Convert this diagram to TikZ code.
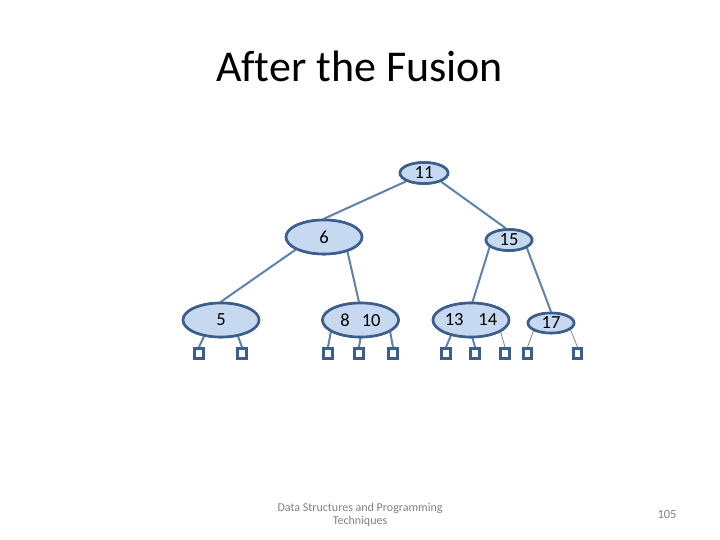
\documentclass[tikz,border=0pt]{standalone}
\usepackage{fontspec}
\setmainfont{Carlito}[Ligatures=NoCommon]
\usetikzlibrary{shapes.geometric}
\definecolor{nodefill}{HTML}{C6D9F1}
\definecolor{nodeline}{HTML}{3B5E8C}
\definecolor{edgeline}{HTML}{5C82AD}
\definecolor{thinedge}{HTML}{7A8A9A}
\definecolor{footgray}{HTML}{808080}
\tikzset{
  keynode/.style={ellipse, draw=nodeline, fill=nodefill, line width=2.6pt, inner sep=0pt, font=\fontsize{18.5}{18.5}\selectfont},
  bignode/.style={keynode, minimum width=76pt, minimum height=34pt},
  smallnode/.style={keynode, minimum width=46pt, minimum height=21pt},
  leafbox/.style={rectangle, draw=nodeline, fill=white, line width=2.8pt, inner sep=0pt, minimum width=8.5pt, minimum height=10pt},
  edge/.style={draw=edgeline, line width=2pt},
  thinedgestyle/.style={draw=thinedge, line width=0.8pt}
}
\begin{document}
\begin{tikzpicture}[x=1pt,y=-1pt]
\useasboundingbox (0,0) rectangle (720,540);
\node[font=\fontsize{44}{44}\selectfont, anchor=base] (title) at (359.5,82) {After the Fusion};

% leaves
\node[leafbox] (l1) at (199,353.5) {};
\node[leafbox] (l2) at (242,353.5) {};
\node[leafbox] (l3) at (328,353.5) {};
\node[leafbox] (l4) at (359,353.5) {};
\node[leafbox] (l5) at (393,353.5) {};
\node[leafbox] (l6) at (446,353.5) {};
\node[leafbox] (l7) at (475,353.5) {};
\node[leafbox] (l8) at (505,353.5) {};
\node[leafbox] (l9) at (527.5,353.5) {};
\node[leafbox] (l10) at (577.5,353.5) {};

% internal nodes (positions)
\node[smallnode, minimum width=48pt] (n11) at (424,173) {11};
\node[bignode] (n6) at (324,237) {6};
\node[smallnode] (n15) at (509,240) {15};
\node[bignode] (n5) at (221,320) {5};
\node[bignode] (n810) at (360.5,320) {8\hspace{12pt}10};
\node[bignode] (n1314) at (471,320) {13\hspace{15pt}14};
\node[smallnode, minimum height=20pt] (n17) at (551,323) {17};

% edges
\draw[edge] (n11.205) -- (n6.90);
\draw[edge] (n11.333) -- (n15.105);
\draw[edge] (n6.204) -- (n5.90);
\draw[edge] (n6.328) -- (n810.95);
\draw[edge] (n15.200) -- (n1314.85);
\draw[edge] (n15.336) -- (n17.90);

\draw[edge] (n5.224) -- (l1.north);
\draw[edge] (n5.316) -- (l2.north);
\draw[edge] (n810.202) -- (l3.north);
\draw[edge] (n810.270) -- (l4.north);
\draw[edge] (n810.338) -- (l5.north);
\draw[edge] (n1314.218) -- (l6.north);
\draw[edge] (n1314.275) -- (l7.north);
\draw[thinedgestyle] (n1314.338) -- (l8.north);
\draw[thinedgestyle] (n17.204) -- (l9.north);
\draw[thinedgestyle] (n17.341) -- (l10.north);

% nodes drawn again above the edges
\node[smallnode, minimum width=48pt] at (n11) {11};
\node[bignode] at (n6) {6};
\node[smallnode] at (n15) {15};
\node[bignode] at (n5) {5};
\node[bignode] at (n810) {8\hspace{12pt}10};
\node[bignode] at (n1314) {13\hspace{15pt}14};
\node[smallnode, minimum height=20pt] at (n17) {17};

\node[font=\fontsize{12}{13.5}\selectfont, text=footgray, align=center] (foot) at (360,515) {Data Structures and Programming\\Techniques};
\node[font=\fontsize{12.5}{12.5}\selectfont, text=footgray] (page) at (667,514) {105};
\end{tikzpicture}
\end{document}
